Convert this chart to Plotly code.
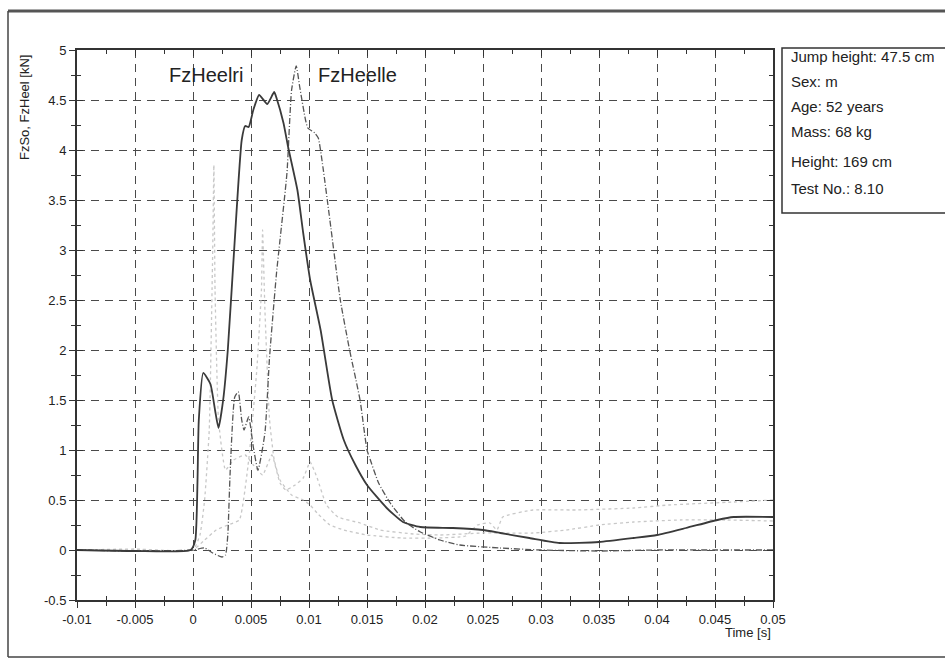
import plotly.graph_objects as go

# ---------------- data ----------------
x_tickvals = [-0.01, -0.005, 0, 0.005, 0.01, 0.015, 0.02, 0.025, 0.03, 0.035, 0.04, 0.045, 0.05]
x_ticktext = ["-0.01", "-0.005", "0", "0.005", "0.01", "0.015", "0.02", "0.025", "0.03", "0.035", "0.04", "0.045", "0.05"]
y_tickvals = [-0.5, 0, 0.5, 1, 1.5, 2, 2.5, 3, 3.5, 4, 4.5, 5]
y_ticktext = ["-0.5", "0", "0.5", "1", "1.5", "2", "2.5", "3", "3.5", "4", "4.5", "5"]

# FzHeelri (solid)
t_ri = [-0.01, -0.005, -0.0002, 0.0002, 0.0005, 0.00088, 0.0015, 0.0019, 0.0022, 0.0026, 0.003,
        0.0036, 0.0042, 0.0045, 0.0048, 0.0052, 0.0057, 0.0064, 0.007, 0.0072, 0.0078, 0.0082,
        0.009, 0.0095, 0.0101, 0.011, 0.012, 0.013, 0.014, 0.015, 0.0167, 0.0181, 0.0196,
        0.0224, 0.025, 0.0265, 0.029, 0.0316, 0.035, 0.038, 0.04, 0.0425, 0.0452, 0.0466, 0.05]
v_ri = [0, -0.01, 0, 0.1, 1.3, 1.77, 1.66, 1.4, 1.22, 1.5, 2.0,
        3.1, 4.1, 4.24, 4.23, 4.4, 4.55, 4.46, 4.58, 4.52, 4.27, 4.03,
        3.6, 3.17, 2.7, 2.2, 1.5, 1.1, 0.85, 0.65, 0.42, 0.28, 0.23,
        0.22, 0.2, 0.17, 0.12, 0.07, 0.08, 0.12, 0.15, 0.22, 0.3, 0.33, 0.33]

# FzHeelle (dash-dot)
t_le = [-0.01, -0.005, 0, 0.001, 0.0017, 0.0025, 0.0028, 0.003, 0.0032, 0.0036, 0.0039,
        0.0042, 0.0044, 0.0048, 0.0052, 0.0056, 0.0062, 0.0066, 0.0072, 0.0075, 0.0081,
        0.0085, 0.0089, 0.0092, 0.0097, 0.0099, 0.0105, 0.0108, 0.0112, 0.0118, 0.0127,
        0.0135, 0.0144, 0.015, 0.0152, 0.016, 0.017, 0.0183, 0.0196, 0.0213, 0.023, 0.0265,
        0.03, 0.035, 0.04, 0.045, 0.05]
v_le = [0, -0.01, 0, 0.02, -0.03, -0.07, -0.05, 0.15, 0.77, 1.53, 1.58,
        1.3, 1.2, 1.33, 1.03, 0.8, 1.17, 1.93, 2.77, 3.1, 3.77,
        4.6, 4.84, 4.63, 4.3, 4.22, 4.17, 4.12, 3.83, 3.3, 2.5,
        2.0, 1.5, 1.0, 0.93, 0.67, 0.47, 0.28, 0.18, 0.1, 0.05, 0.02,
        0.0, -0.01, 0.0, 0.0, 0.0]

# FzSo (light traces)
t_so1 = [-0.01, -0.005, 0, 0.0006, 0.001, 0.0014, 0.0017, 0.0018, 0.0019, 0.0022, 0.0028,
         0.0035, 0.0045, 0.0052, 0.006, 0.0068, 0.0075, 0.008, 0.0088, 0.0095, 0.0101,
         0.0107, 0.0115, 0.0125, 0.0144, 0.0161, 0.019, 0.0213, 0.025, 0.0293, 0.0322,
         0.035, 0.038, 0.042, 0.046, 0.05]
v_so1 = [0, 0.01, 0, 0.15, 0.5, 1.2, 3.0, 3.85, 2.6, 1.3, 0.8,
         0.9, 0.95, 0.85, 0.75, 0.95, 0.67, 0.6, 0.65, 0.72, 0.88,
         0.72, 0.45, 0.33, 0.27, 0.2, 0.16, 0.15, 0.17, 0.17, 0.2,
         0.25, 0.28, 0.3, 0.3, 0.29]

t_so2 = [-0.01, -0.005, 0, 0.001, 0.002, 0.003, 0.004, 0.0048, 0.0055, 0.0059, 0.006,
         0.0062, 0.0066, 0.007, 0.0075, 0.0085, 0.0095, 0.0101, 0.0107, 0.0118, 0.013,
         0.015, 0.018, 0.021, 0.0235, 0.0245, 0.0256, 0.0262, 0.0267, 0.0293, 0.033,
         0.038, 0.041, 0.0466, 0.05]
v_so2 = [0, 0, 0, 0.1, 0.2, 0.25, 0.3, 0.9, 1.8, 2.6, 3.2,
         2.4, 1.3, 0.9, 0.7, 0.55, 0.5, 0.45, 0.37, 0.25, 0.2,
         0.15, 0.12, 0.12, 0.14, 0.25, 0.27, 0.2, 0.33, 0.4, 0.4,
         0.42, 0.45, 0.48, 0.5]

info_lines = ["Jump height: 47.5 cm", "Sex: m", "Age: 52 years", "Mass: 68 kg",
              "Height: 169 cm", "Test No.: 8.10"]
curve_labels = ["FzHeelri", "FzHeelle"]
y_title = "FzSo, FzHeel [kN]"
x_title = "Time [s]"

# ---------------- layout helpers ----------------
W, H = 945, 664
L, R, T, B = 77, 773, 50, 600
FONT = "Liberation Sans, Arial, sans-serif"


def px(x):
    return (x - L) / (R - L)


def py(y):
    return (B - y) / (B - T)


fig = go.Figure()
fig.add_trace(go.Scatter(x=t_so2, y=v_so2, mode="lines", name="FzSole",
                         line=dict(color="#c8c8c8", width=1.3, dash="dot",
                                   shape="spline", smoothing=0.4)))
fig.add_trace(go.Scatter(x=t_so1, y=v_so1, mode="lines", name="FzSori",
                         line=dict(color="#c8c8c8", width=1.3, dash="dot",
                                   shape="spline", smoothing=0.4)))
fig.add_trace(go.Scatter(x=t_le, y=v_le, mode="lines", name=curve_labels[1],
                         line=dict(color="#555555", width=1.3, dash="6px,2px,1px,2px",
                                   shape="spline", smoothing=0.5)))
fig.add_trace(go.Scatter(x=t_ri, y=v_ri, mode="lines", name=curve_labels[0],
                         line=dict(color="#3a3a3a", width=1.8, shape="spline", smoothing=0.5)))
# overlay axes for crossing (inside) ticks
fig.add_trace(go.Scatter(x=[None], y=[None], xaxis="x2", yaxis="y2", showlegend=False,
                         hoverinfo="skip"))

x_minor = [x_tickvals[0] + i * 0.0025 for i in range(25)]
y_minor = [y_tickvals[0] + i * 0.25 for i in range(23)]

axis_common = dict(showline=True, linecolor="#333333", linewidth=2, zeroline=False,
                   tickcolor="#333333", tickwidth=1.3,
                   tickfont=dict(family=FONT, size=13, color="#222222"))

fig.update_layout(
    width=W, height=H,
    margin=dict(l=L, r=W - R, t=T, b=H - B),
    paper_bgcolor="white", plot_bgcolor="white",
    showlegend=False,
    xaxis=dict(range=[-0.01, 0.05], tickmode="array", tickvals=x_tickvals, ticktext=x_ticktext,
               ticks="outside", ticklen=6, mirror=True,
               showgrid=True, gridcolor="#4a4a4a", gridwidth=1.4, griddash="8px,6px",
               minor=dict(tickmode="array", tickvals=x_minor, ticks="outside", ticklen=4,
                          tickcolor="#333333", showgrid=False),
               **axis_common),
    yaxis=dict(range=[-0.5, 5], tickmode="array", tickvals=y_tickvals, ticktext=y_ticktext,
               ticks="outside", ticklen=6, mirror=True,
               showgrid=True, gridcolor="#4a4a4a", gridwidth=1.4, griddash="8px,6px",
               minor=dict(tickmode="array", tickvals=y_minor, ticks="outside", ticklen=4,
                          tickcolor="#333333", showgrid=False),
               **axis_common),
    xaxis2=dict(range=[-0.01, 0.05], overlaying="x", anchor="y", side="bottom",
                tickmode="array", tickvals=x_tickvals, ticks="inside", ticklen=6,
                tickcolor="#333333", tickwidth=1.3, mirror="ticks", showline=False,
                showticklabels=False, showgrid=False, zeroline=False,
                minor=dict(tickmode="array", tickvals=x_minor, ticks="inside", ticklen=4,
                           tickcolor="#333333", showgrid=False)),
    yaxis2=dict(range=[-0.5, 5], overlaying="y", anchor="x", side="left",
                tickmode="array", tickvals=y_tickvals, ticks="inside", ticklen=6,
                tickcolor="#333333", tickwidth=1.3, mirror="ticks", showline=False,
                showticklabels=False, showgrid=False, zeroline=False,
                minor=dict(tickmode="array", tickvals=y_minor, ticks="inside", ticklen=4,
                           tickcolor="#333333", showgrid=False)),
)

shapes = [
    # outer frame
    dict(type="line", xref="paper", yref="paper", x0=px(8), x1=px(950), y0=py(11), y1=py(11),
         line=dict(color="#555555", width=3)),
    dict(type="line", xref="paper", yref="paper", x0=px(8), x1=px(8), y0=py(11), y1=py(657),
         line=dict(color="#444444", width=1.5)),
    dict(type="line", xref="paper", yref="paper", x0=px(8), x1=px(950), y0=py(657), y1=py(657),
         line=dict(color="#444444", width=1.5)),
    # info box
    dict(type="rect", xref="paper", yref="paper", x0=px(782), x1=px(960), y0=py(48), y1=py(213),
         line=dict(color="#333333", width=1.5)),
]
fig.update_layout(shapes=shapes)

info_y = [57, 81, 106, 132, 161, 189]
for txt, yy in zip(info_lines, info_y):
    fig.add_annotation(x=px(789), y=py(yy), xref="paper", yref="paper", text=txt,
                       showarrow=False, xanchor="left", yanchor="middle",
                       font=dict(family=FONT, size=15, color="#222222"))

fig.add_annotation(x=px(167), y=py(75), xref="paper", yref="paper", text=curve_labels[0],
                   showarrow=False, xanchor="left", yanchor="middle",
                   font=dict(family=FONT, size=20, color="#222222"))
fig.add_annotation(x=px(316), y=py(75), xref="paper", yref="paper", text=curve_labels[1],
                   showarrow=False, xanchor="left", yanchor="middle",
                   font=dict(family=FONT, size=20, color="#222222"))
fig.add_annotation(x=px(773), y=py(632), xref="paper", yref="paper", text=x_title,
                   showarrow=False, xanchor="right", yanchor="middle",
                   font=dict(family=FONT, size=13, color="#222222"))
fig.add_annotation(x=px(24), y=py(108), xref="paper", yref="paper", text=y_title,
                   showarrow=False, xanchor="center", yanchor="middle", textangle=-90,
                   font=dict(family=FONT, size=13, color="#222222"))

fig.write_html("out.html")
